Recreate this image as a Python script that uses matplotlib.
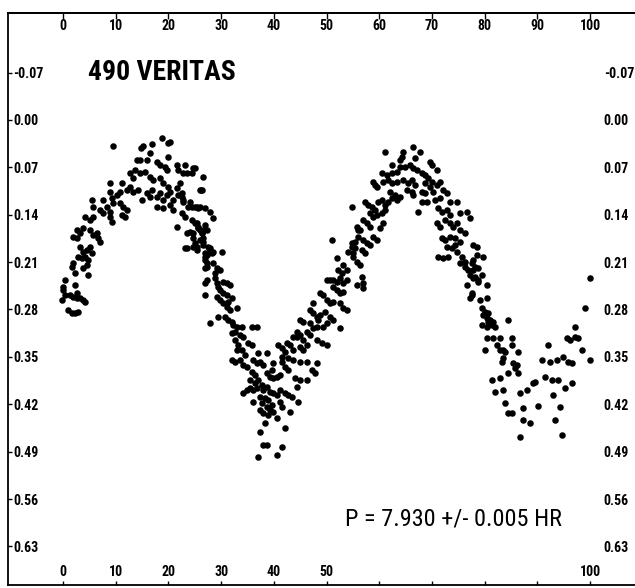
"""
Lightcurve of asteroid 490 Veritas, folded on P = 7.930 h.
Magnitude axis is inverted; phase in percent of the period.
"""

import matplotlib

matplotlib.use("Agg")
import matplotlib.pyplot as plt
import numpy as np
from matplotlib import font_manager

_available = {f.name for f in font_manager.fontManager.ttflist}
NARROW = next(
    (f for f in ("Liberation Sans Narrow", "DejaVu Sans Condensed", "Roboto Condensed")
     if f in _available),
    "Liberation Sans",
)

TITLE = "490 VERITAS"
PERIOD_NOTE = "P = 7.930 +/- 0.005 HR"

x_ticks = [0, 10, 20, 30, 40, 50, 60, 70, 80, 90, 100]
x_bottom_labels = ["0", "10", "20", "30", "40", "50", "", "", "", "", "100"]
y_ticks = [-0.07, 0.00, 0.07, 0.14, 0.21, 0.28, 0.35, 0.42, 0.49, 0.56, 0.63]

# (phase %, relative mag), grouped by part of the curve
first_max = [
    (18.7, 0.026), (19.9, 0.034), (20.3, 0.032), (9.5, 0.038), (15.2, 0.038),
    (14.8, 0.041), (16.9, 0.035), (16.5, 0.049), (19.9, 0.055), (14.0, 0.059),
    (14.6, 0.059), (15.9, 0.059), (17.8, 0.062), (18.4, 0.066), (19.4, 0.069),
    (19.7, 0.074), (21.6, 0.066), (21.8, 0.074), (23.1, 0.066), (23.5, 0.078),
    (24.7, 0.071), (24.5, 0.078), (26.6, 0.084), (12.7, 0.078), (13.7, 0.074),
    (13.3, 0.086), (14.6, 0.078), (15.6, 0.077), (16.5, 0.084), (17.1, 0.089),
    (18.4, 0.086), (19.0, 0.093), (19.9, 0.099), (20.3, 0.106), (21.6, 0.100),
    (21.8, 0.111), (11.2, 0.093), (8.9, 0.093), (26.0, 0.103), (12.1, 0.103),
    (12.7, 0.099), (13.3, 0.106), (10.2, 0.111), (10.8, 0.106), (14.2, 0.103),
    (15.0, 0.118), (15.9, 0.108), (16.5, 0.114), (16.9, 0.103), (17.8, 0.114),
    (18.4, 0.108), (19.0, 0.118), (19.7, 0.111), (20.9, 0.118), (22.6, 0.114),
    (22.8, 0.121), (24.1, 0.121), (24.5, 0.128), (25.4, 0.128), (26.9, 0.130),
    (17.8, 0.128), (19.0, 0.130), (20.3, 0.126), (20.9, 0.133), (22.6, 0.137),
    (23.1, 0.143), (8.9, 0.106), (9.3, 0.115), (9.5, 0.123), (7.6, 0.118),
    (8.3, 0.128), (5.5, 0.118), (5.7, 0.128), (7.0, 0.133), (7.6, 0.137),
    (8.9, 0.136), (8.9, 0.143), (9.3, 0.151), (10.8, 0.123), (11.4, 0.128),
    (12.1, 0.133), (11.2, 0.140), (11.8, 0.143), (4.2, 0.143), (5.1, 0.148),
    (5.7, 0.143), (24.5, 0.148), (25.4, 0.152), (25.6, 0.160), (26.4, 0.167),
    (21.6, 0.158), (24.0, 0.165), (24.7, 0.174), (26.0, 0.177), (26.6, 0.185),
    (27.3, 0.162), (2.7, 0.162), (3.2, 0.167), (3.8, 0.160), (1.9, 0.173),
    (2.7, 0.174), (5.1, 0.162), (5.7, 0.170), (6.5, 0.167), (6.6, 0.174),
    (7.0, 0.180), (5.1, 0.188), (4.6, 0.192), (3.8, 0.195), (3.2, 0.188),
    (2.8, 0.202), (3.6, 0.204), (4.2, 0.202), (4.7, 0.207), (5.5, 0.196),
    (4.6, 0.214), (1.9, 0.211), (1.7, 0.217), (2.3, 0.226), (3.8, 0.219),
    (23.5, 0.189), (24.7, 0.188), (25.4, 0.192), (26.9, 0.196), (26.9, 0.207),
    (27.3, 0.217), (4.7, 0.229), (0.4, 0.236), (0.0, 0.247), (2.3, 0.244),
    (2.7, 0.255), (0.0, 0.251), (0.4, 0.258), (1.3, 0.258), (1.9, 0.261),
    (2.7, 0.263), (3.2, 0.263), (3.8, 0.266), (4.2, 0.269), (-0.2, 0.266),
    (26.9, 0.258), (26.9, 0.241), (1.0, 0.281), (1.7, 0.285), (2.3, 0.285),
    (2.8, 0.284), (25.0, 0.071), (22.8, 0.078), (26.2, 0.103), (22.2, 0.093),
    (22.6, 0.108), (22.8, 0.118), (23.7, 0.128), (25.0, 0.128), (25.6, 0.130),
    (27.9, 0.136), (28.5, 0.145), (25.0, 0.152), (25.6, 0.158), (26.0, 0.162),
    (23.5, 0.167), (24.7, 0.167), (26.9, 0.155), (26.6, 0.174), (25.0, 0.182),
    (25.4, 0.188), (23.1, 0.189), (27.9, 0.189), (28.5, 0.195), (30.2, 0.195),
    (27.3, 0.199),
]

first_min = [
    (26.3, 0.103), (26.0, 0.128), (26.6, 0.162), (26.4, 0.167), (26.6, 0.180),
    (27.5, 0.188), (27.9, 0.192), (28.3, 0.196), (26.9, 0.202), (27.3, 0.211),
    (26.9, 0.219), (28.5, 0.211), (29.2, 0.219), (29.8, 0.222), (28.8, 0.226),
    (27.3, 0.236), (28.8, 0.233), (29.2, 0.241), (29.4, 0.247), (30.4, 0.239),
    (31.1, 0.241), (31.7, 0.244), (29.8, 0.251), (30.4, 0.255), (31.1, 0.258),
    (29.2, 0.261), (29.8, 0.266), (30.4, 0.270), (31.3, 0.269), (32.1, 0.263),
    (33.0, 0.278), (31.1, 0.276), (31.7, 0.281), (29.4, 0.291), (27.9, 0.300),
    (30.7, 0.291), (31.3, 0.295), (32.1, 0.298), (32.3, 0.303), (33.0, 0.306),
    (34.0, 0.306), (32.6, 0.313), (32.1, 0.315), (35.9, 0.306), (36.8, 0.306),
    (33.6, 0.318), (34.2, 0.320), (32.6, 0.325), (33.2, 0.332), (33.0, 0.340),
    (35.1, 0.329), (35.9, 0.332), (34.0, 0.340), (34.5, 0.347), (32.1, 0.354),
    (32.6, 0.357), (33.6, 0.354), (34.2, 0.362), (34.9, 0.365), (36.1, 0.354),
    (36.8, 0.359), (37.4, 0.357), (38.0, 0.362), (37.0, 0.344), (38.7, 0.344),
    (40.8, 0.332), (41.6, 0.337), (42.5, 0.329), (43.1, 0.332), (43.6, 0.340),
    (41.6, 0.350), (42.1, 0.343), (42.7, 0.352), (44.4, 0.320), (45.0, 0.318),
    (45.5, 0.325), (45.0, 0.335), (45.5, 0.340), (46.3, 0.332), (48.2, 0.325),
    (49.1, 0.329), (50.1, 0.332), (39.8, 0.359), (39.7, 0.369), (41.6, 0.357),
    (42.1, 0.365), (42.7, 0.369), (43.6, 0.354), (45.0, 0.357), (46.3, 0.357),
    (48.2, 0.359), (47.2, 0.369), (47.8, 0.374), (35.9, 0.372), (36.4, 0.377),
    (35.5, 0.384), (36.4, 0.389), (37.0, 0.384), (38.7, 0.374), (39.3, 0.380),
    (39.8, 0.381), (40.6, 0.380), (41.2, 0.377), (44.0, 0.381), (45.0, 0.384),
    (46.3, 0.384), (44.4, 0.394), (34.2, 0.403), (34.9, 0.399), (35.5, 0.396),
    (36.1, 0.399), (36.8, 0.396), (37.8, 0.391), (38.0, 0.399), (38.7, 0.394),
    (39.3, 0.402), (39.8, 0.403), (40.6, 0.406), (41.2, 0.399), (42.1, 0.403),
    (42.7, 0.406), (43.5, 0.409), (37.4, 0.409), (38.3, 0.411), (38.9, 0.414),
    (36.1, 0.416), (37.8, 0.418), (38.7, 0.424), (39.7, 0.421), (39.3, 0.428),
    (37.4, 0.428), (38.0, 0.433), (38.9, 0.436), (39.8, 0.431), (41.2, 0.416),
    (41.6, 0.424), (43.1, 0.431), (44.6, 0.416), (40.6, 0.440), (38.3, 0.448),
    (37.4, 0.461), (42.1, 0.455), (38.0, 0.480), (38.7, 0.480), (41.6, 0.483),
    (37.0, 0.498), (40.6, 0.495),
]

second_rise = [
    (54.8, 0.128), (55.8, 0.158), (56.0, 0.162), (51.0, 0.177), (55.4, 0.180),
    (54.8, 0.188), (54.1, 0.195), (52.0, 0.204), (55.0, 0.202), (55.8, 0.210),
    (53.1, 0.214), (53.9, 0.222), (52.9, 0.226), (52.2, 0.222), (50.1, 0.236),
    (50.7, 0.236), (51.2, 0.236), (52.0, 0.239), (52.6, 0.233), (53.1, 0.241),
    (53.9, 0.236), (55.8, 0.244), (51.2, 0.247), (52.0, 0.251), (52.6, 0.255),
    (53.1, 0.254), (48.8, 0.255), (49.3, 0.258), (50.1, 0.266), (50.7, 0.270),
    (51.2, 0.269), (52.6, 0.270), (53.1, 0.278), (53.9, 0.281), (47.4, 0.270),
    (46.9, 0.281), (47.4, 0.285), (48.2, 0.291), (48.8, 0.288), (49.7, 0.284),
    (50.7, 0.291), (51.2, 0.295), (52.6, 0.307), (50.1, 0.300), (49.3, 0.306),
    (45.0, 0.295), (45.5, 0.298), (46.9, 0.300), (47.4, 0.307), (48.2, 0.306),
    (48.4, 0.295), (44.4, 0.313), (43.6, 0.320), (46.3, 0.313), (46.9, 0.318),
]

second_max = [
    (66.4, 0.040), (61.1, 0.047), (64.5, 0.047), (64.3, 0.055), (63.9, 0.059),
    (67.7, 0.047), (66.8, 0.056), (62.4, 0.066), (69.6, 0.062), (70.0, 0.066),
    (71.0, 0.074), (63.9, 0.069), (64.9, 0.069), (65.8, 0.066), (66.4, 0.071),
    (67.2, 0.074), (60.5, 0.078), (61.5, 0.081), (62.4, 0.078), (63.4, 0.077),
    (68.1, 0.078), (68.7, 0.081), (69.3, 0.086), (70.0, 0.092), (58.8, 0.092),
    (59.2, 0.096), (59.6, 0.099), (60.7, 0.092), (61.7, 0.089), (62.4, 0.093),
    (63.4, 0.092), (64.5, 0.089), (65.5, 0.093), (66.2, 0.089), (66.8, 0.096),
    (68.7, 0.093), (69.6, 0.099), (71.0, 0.096), (71.5, 0.092), (72.1, 0.103),
    (72.9, 0.108), (62.0, 0.106), (63.0, 0.111), (63.9, 0.114), (65.3, 0.103),
    (66.2, 0.106), (66.4, 0.111), (68.1, 0.106), (68.7, 0.108), (70.2, 0.106),
    (57.3, 0.121), (57.9, 0.126), (58.6, 0.128), (59.2, 0.133), (59.8, 0.121),
    (60.5, 0.118), (61.1, 0.126), (61.7, 0.121), (62.4, 0.115), (63.4, 0.118),
    (68.1, 0.121), (69.1, 0.121), (70.6, 0.118), (71.5, 0.115), (73.4, 0.121),
    (74.8, 0.121), (67.4, 0.136), (58.3, 0.137), (58.8, 0.143), (59.6, 0.140),
    (60.5, 0.137), (61.1, 0.133), (71.2, 0.130), (71.9, 0.136), (72.9, 0.133),
    (73.4, 0.140), (75.3, 0.137), (76.7, 0.136), (77.2, 0.145), (56.9, 0.148),
    (57.7, 0.152), (58.3, 0.158), (56.4, 0.162), (60.7, 0.152), (60.2, 0.160),
    (71.0, 0.152), (71.5, 0.158), (72.5, 0.148), (73.4, 0.152), (74.0, 0.158),
    (74.8, 0.152), (75.3, 0.162), (76.3, 0.167), (56.0, 0.173), (56.9, 0.177),
    (57.7, 0.182), (58.3, 0.185), (58.8, 0.173), (59.6, 0.177), (54.8, 0.182),
    (55.4, 0.189), (55.0, 0.196), (71.9, 0.174), (72.5, 0.177), (73.4, 0.173),
    (74.4, 0.174), (75.3, 0.180), (77.8, 0.185), (78.6, 0.188), (72.9, 0.188),
    (73.8, 0.189), (74.4, 0.185), (56.7, 0.192), (57.3, 0.196), (56.4, 0.214),
    (71.2, 0.202), (72.1, 0.204), (73.1, 0.202), (74.8, 0.195), (75.7, 0.202),
    (76.3, 0.210), (78.6, 0.199), (79.7, 0.202), (75.3, 0.211), (76.3, 0.217),
    (76.9, 0.222), (77.8, 0.222), (77.6, 0.211), (78.2, 0.217), (78.7, 0.219),
    (77.2, 0.229), (78.2, 0.232), (78.7, 0.236), (79.5, 0.229), (56.7, 0.232),
    (56.9, 0.241), (56.9, 0.248), (76.7, 0.244), (80.5, 0.244), (77.6, 0.258),
    (77.2, 0.263), (79.1, 0.266), (80.5, 0.263), (79.5, 0.278), (80.1, 0.284),
    (79.7, 0.288), (80.5, 0.292), (80.6, 0.298), (81.6, 0.298), (81.4, 0.303),
    (79.5, 0.303), (80.5, 0.306), (84.4, 0.295), (77.8, 0.207), (77.8, 0.233),
    (78.7, 0.239), (77.6, 0.255), (80.6, 0.285), (81.0, 0.295), (82.0, 0.306),
]

second_min = [
    (80.5, 0.322), (81.6, 0.322), (82.9, 0.322), (85.2, 0.322), (82.4, 0.332),
    (82.9, 0.340), (83.5, 0.340), (83.9, 0.343), (80.1, 0.340), (85.2, 0.332),
    (86.3, 0.343), (83.5, 0.352), (83.3, 0.357), (85.4, 0.359), (85.8, 0.366),
    (86.1, 0.362), (84.4, 0.374), (86.3, 0.374), (81.4, 0.384), (82.9, 0.381),
    (82.0, 0.402), (83.5, 0.399), (88.0, 0.399), (86.7, 0.403), (83.9, 0.418),
    (90.1, 0.422), (94.3, 0.424), (87.3, 0.425), (84.4, 0.433), (85.2, 0.433),
    (87.3, 0.443), (88.6, 0.448), (93.4, 0.443), (86.7, 0.468), (94.7, 0.465),
    (100.0, 0.233), (99.1, 0.278), (97.2, 0.306), (95.6, 0.322), (96.2, 0.325),
    (97.2, 0.320), (97.7, 0.322), (98.5, 0.340), (92.0, 0.332), (100.0, 0.354),
    (90.9, 0.354), (92.4, 0.357), (93.7, 0.354), (94.9, 0.350), (95.8, 0.357),
    (96.6, 0.359), (91.5, 0.380), (92.8, 0.384), (93.9, 0.384), (89.2, 0.389),
    (89.6, 0.387), (95.3, 0.396), (96.6, 0.389), (93.0, 0.406),
]

segments = [first_max, first_min, second_rise, second_max, second_min]
points = np.array([p for seg in segments for p in seg])
phase, mag = points[:, 0], points[:, 1]

fig = plt.figure(figsize=(6.35, 5.88), dpi=100)
ax = fig.add_axes([8 / 635, 3 / 588, 627 / 635, 572 / 588])

ax.scatter(phase, mag, s=22, color="black", linewidths=0, zorder=3)

ax.set_xlim(-10.44, 108.5)
ax.set_ylim(0.687, -0.158)

tick_font = dict(family=NARROW, weight="bold", size=10)

# bottom (partially labelled) and left axes
ax.set_xticks(x_ticks)
ax.set_xticklabels(x_bottom_labels, fontdict=tick_font)
ax.set_yticks(y_ticks)
ax.set_yticklabels([f"{v:.2f}" for v in y_ticks], fontdict=tick_font)
ax.tick_params(axis="x", direction="in", length=3, width=1, pad=-14.5)
ax.tick_params(axis="y", direction="in", length=3, width=1, pad=-4.0)
for lab in ax.get_yticklabels():
    lab.set_ha("left")

# top and right axes carry their own labels
top = ax.secondary_xaxis("top")
top.set_xticks(x_ticks)
top.set_xticklabels([str(v) for v in x_ticks], fontdict=tick_font)
top.tick_params(direction="in", length=4, width=1, pad=-14.5)
top.spines["top"].set_linewidth(1.3)

right = ax.secondary_yaxis("right")
right.set_yticks(y_ticks)
right.set_yticklabels([f"{v:.2f}" for v in y_ticks], fontdict=tick_font)
right.tick_params(direction="in", length=0, pad=-22.5)
right.spines["right"].set_visible(False)

ax.spines["right"].set_visible(False)
for side in ("left", "bottom", "top"):
    ax.spines[side].set_linewidth(1.3)

ax.text(4.8, -0.07, TITLE, family=NARROW, weight="bold", size=20,
        va="center", ha="left")
ax.text(53.5, 0.589, PERIOD_NOTE, family=NARROW, size=17.5,
        va="center", ha="left")

fig.savefig("out.png", dpi=100)
